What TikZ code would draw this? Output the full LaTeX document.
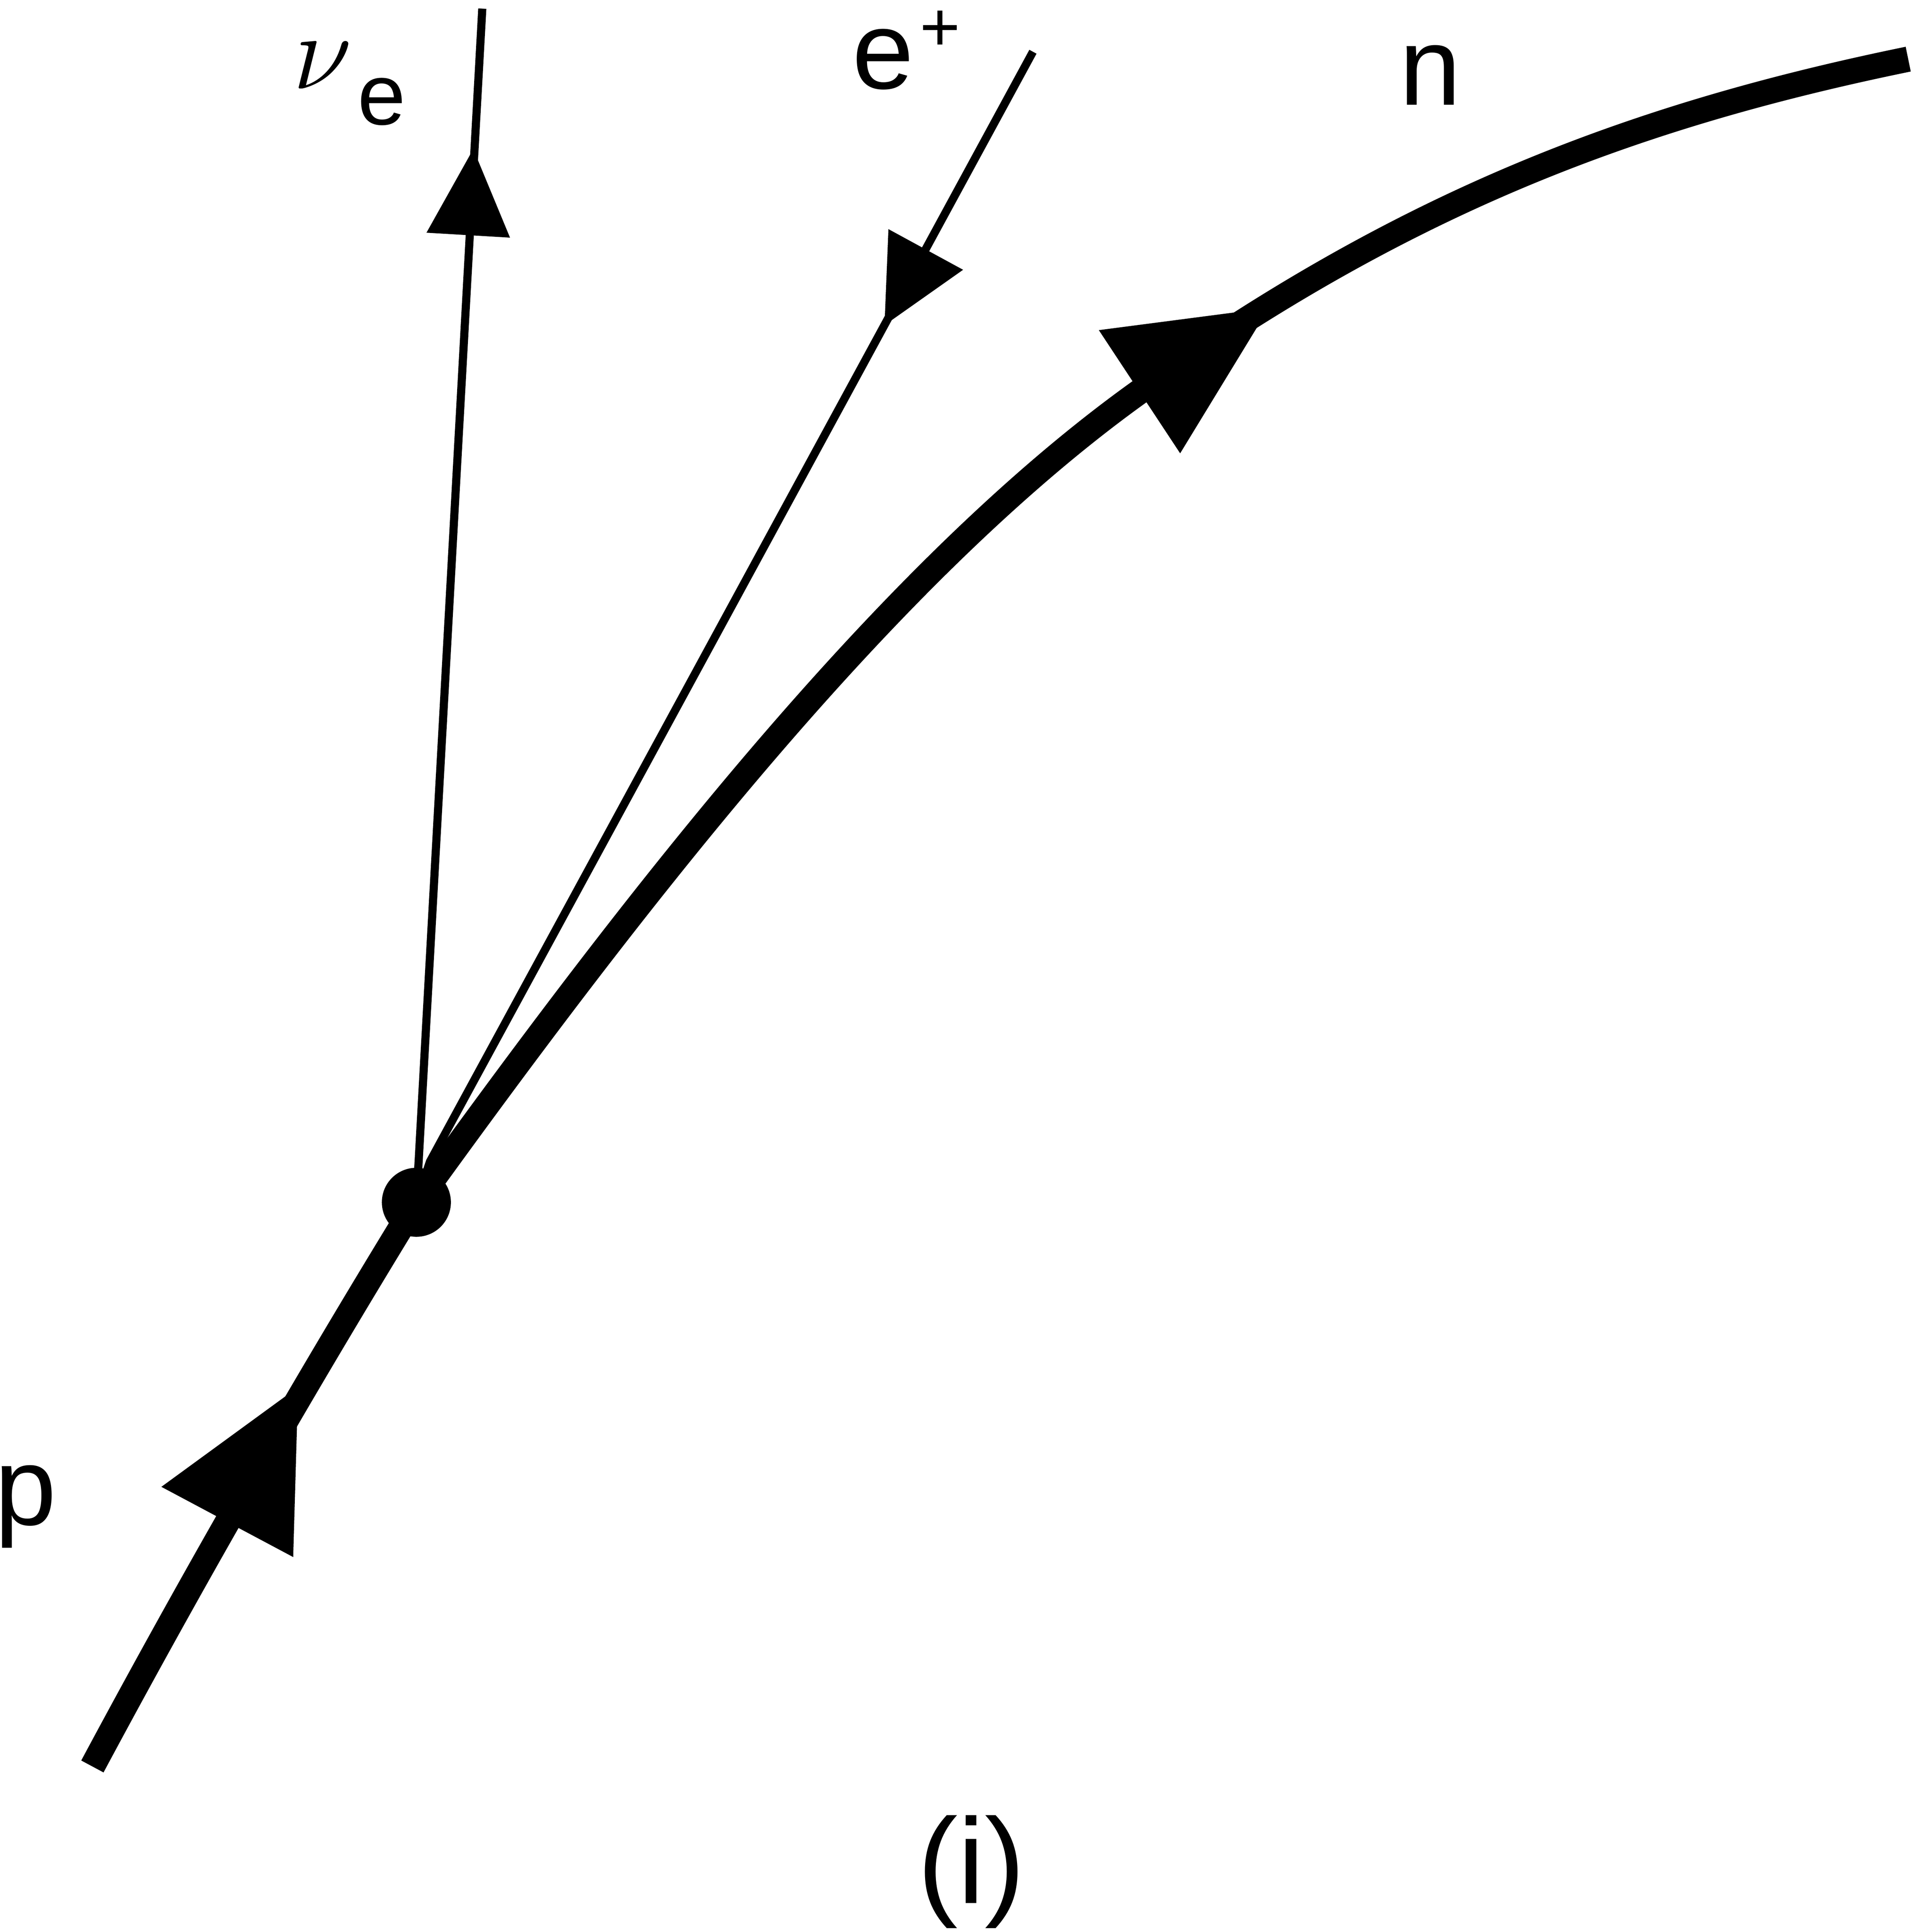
\documentclass[tikz,border=0pt]{standalone}
\usepackage{fontspec}
\setmainfont{Liberation Sans}
\begin{document}
\begin{tikzpicture}[x=0.01cm,y=-0.01cm,
  thickline/.style={line width=0.205cm},
  thinline/.style={line width=0.066cm},
  headfill/.style={fill=black},
  lbl/.style={inner sep=0pt, font=\fontsize{25.6}{30}\selectfont},
  vertexdot/.style={circle, fill=black, minimum size=0.56cm, inner sep=0pt}]
\useasboundingbox (0,0) rectangle (1552,1568.4);
% vertex
\node[vertexdot] (v) at (338,976) {};
% free ends
\coordinate (pstart) at (75,1434);
\coordinate (nuend) at (391.5,7);
\coordinate (epend) at (838.5,42);
\coordinate (ep1) at (349,943);
\coordinate (nmid) at (925,318);
\coordinate (nend) at (1549,48);
% proton
\draw[thickline] (pstart) .. controls (158,1279) and (246,1126) .. (v.center);
% neutron
\draw[thickline] (v.center) .. controls (519,725) and (722.5,463) .. (nmid)
                 .. controls (1136,167) and (1320,95) .. (nend);
% neutrino
\draw[thinline] (v.center) -- (nuend);
% positron
\draw[thinline] (epend) -- (ep1) -- (v.center);
% arrowheads
\fill[headfill] (384.2,121) -- (346.2,188.9) -- (414,192.9) -- cycle;
\fill[headfill] (718,264) -- (721.2,186) -- (781.8,219) -- cycle;
\fill[headfill] (1030,250) -- (892,268) -- (958,368) -- cycle;
\fill[headfill] (242,1126) -- (131,1207) -- (238,1264) -- cycle;
% labels
\node[lbl, anchor=base] (nulbl) at (262,72) {\fontsize{24.88}{30}\selectfont$\nu$};
\node[lbl, anchor=base] (nusub) at (310,101) {\fontsize{20}{24}\selectfont e};
\node[lbl, anchor=base] (eplbl) at (717,72) {e};
\node[lbl, anchor=center] (epsup) at (763,25) {\fontsize{16}{20}\selectfont +};
\node[lbl, anchor=base] (nlbl) at (1161,85) {n};
\node[lbl, anchor=base west] (plbl) at (-5,1238) {p};
\node[lbl, anchor=base] (caption) at (788.5,1545) {\fontsize{28}{32}\selectfont (i)};
\end{tikzpicture}
\end{document}
